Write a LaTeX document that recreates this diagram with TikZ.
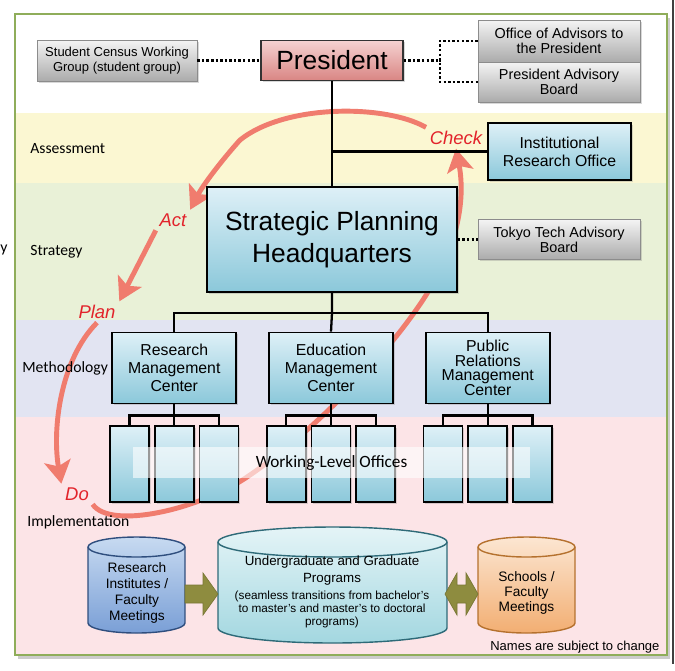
\documentclass[tikz,border=0pt]{standalone}
\usepackage{fontspec}
\setmainfont{Liberation Sans}
\newfontfamily\calibri{Carlito}
\usepackage{xcolor}
\usepackage{tikz}
\usetikzlibrary{calc,positioning,shadows,arrows.meta}
\definecolor{bandyellow}{HTML}{FBF7D2}
\definecolor{bandgreen}{HTML}{E9F1D7}
\definecolor{bandlilac}{HTML}{E2E4F2}
\definecolor{bandpink}{HTML}{FCE4E7}
\definecolor{framegreen}{HTML}{8FAD5A}
\definecolor{greytop}{HTML}{F4F4F4}
\definecolor{greybot}{HTML}{ABABAB}
\definecolor{redtop}{HTML}{F5D2D1}
\definecolor{redbot}{HTML}{D98583}
\definecolor{bluetop}{HTML}{DEF0F7}
\definecolor{bluebot}{HTML}{8BC8DA}
\definecolor{drumbluetop}{HTML}{C7DAF1}
\definecolor{drumbluebot}{HTML}{7A9FD6}
\definecolor{drumblueline}{HTML}{2F4E7E}
\definecolor{drumtealtop}{HTML}{E4F4F7}
\definecolor{drumtealbot}{HTML}{A3D7E0}
\definecolor{drumtealline}{HTML}{2E6A78}
\definecolor{drumorangetop}{HTML}{FCE6D2}
\definecolor{drumorangebot}{HTML}{F2AE72}
\definecolor{drumorangeline}{HTML}{B5712E}
\definecolor{pdcapink}{HTML}{F07C6E}
\definecolor{pdcared}{HTML}{E2232B}
\definecolor{olivearrow}{HTML}{8E8C3F}
\newcommand{\FontAt}[2]{\fontsize{#1}{#2}\selectfont}

\begin{document}
\begin{tikzpicture}[x=0.02cm, y=-0.02cm, node distance=0.62cm,
    boxshadow/.style={drop shadow={opacity=0.3, shadow xshift=1pt, shadow yshift=-1pt}},
    greybox/.style={draw=black!45, top color=greytop, bottom color=greybot, boxshadow, align=center, inner sep=1pt, minimum width=3.24cm, minimum height=0.8cm, font=\FontAt{8.2}{8.6}},
    bluebox/.style={draw=black, line width=1pt, top color=bluetop, bottom color=bluebot, boxshadow, align=center, inner sep=1pt, font=\FontAt{9}{10.2}},
    centre/.style={bluebox, minimum width=2.48cm, minimum height=1.42cm},
    office/.style={bluebox, minimum width=0.78cm, minimum height=1.52cm},
    bandt/.style={anchor=west, inner sep=0pt, font=\calibri\FontAt{8.9}{10}},
    tree/.style={line width=1.3pt},
    dots/.style={line width=1.4pt, dash pattern=on 1.4pt off 1.2pt},
    pdca/.style={line width=2.8pt, draw=pdcapink, -{Stealth[length=13pt, width=15pt, inset=3pt]}},
    pdcat/.style={text=pdcared, inner sep=2pt, font=\itshape\FontAt{10.5}{12}},
    drum/.style={draw=#1line, line width=0.8pt, top color=#1top, bottom color=#1bot},
    drumt/.style={align=center, font=\FontAt{7.8}{9}},
    block/.style={fill=olivearrow, draw=olivearrow!85!black, line width=0.4pt}]
    \useasboundingbox (0,0) rectangle (675,670);

    \fill[black!20] (18,18) rectangle (670,659);
    \fill[white] (15,14) rectangle (667,113);
    \fill[bandyellow] (15,113) rectangle (667,183);
    \fill[bandgreen] (15,183) rectangle (667,320);
    \fill[bandlilac] (15,320) rectangle (667,417);
    \fill[bandpink] (15,417) rectangle (667,655);
    \draw[framegreen, line width=1.6pt] (15,14) rectangle (667,655);
    \draw[black!75, line width=0.6pt] (673,0) -- (673,664);
    \node[font=\calibri\FontAt{9}{10}, anchor=east, inner sep=0pt] (cut) at (8,250) {y};

    \node[pdcat] (check) at (456,138) {Check};
    \node[pdcat] (act) at (173,220) {Act};
    \node[pdcat] (plan) at (97,312) {Plan};
    \node[pdcat] (do) at (77,494) {Do};

    \draw[pdca] (check.north west) .. controls (385,104) and (285,104) .. (240,140) .. controls (222,160) and (203,185) .. (act.north east);
    \draw[pdca] (act.south west) -- (plan.north east);
    \draw[pdca] (plan.south) .. controls (60,360) and (52,430) .. (do.north west);
    \draw[pdca] (do.south east) .. controls (110,530) and (200,510) .. (250,475) .. controls (330,420) and (420,320) .. (445,260) .. controls (465,215) and (462,180) .. (check.south);

    \node[bandt] (assess) at (30,149) {Assessment};
    \node[bandt] (strat) at (30,252) {Strategy};
    \node[bandt] (method) at (22,368) {Methodology};
    \node[bandt] (impl) at (27,522) {Implementation};

    \node[greybox, minimum width=3.2cm, minimum height=0.82cm, font=\FontAt{7.4}{8.8}] (census) at (117,60.5) {Student Census Working\\Group (student group)};
    \node[draw=black!80, line width=0.8pt, top color=redtop, bottom color=redbot, boxshadow, minimum width=2.84cm, minimum height=0.8cm, font=\FontAt{15}{17}] (president) at (332,60.5) {President};
    \node[greybox, minimum height=0.84cm] (advisors) at (559,41) {Office of Advisors to\\the President};
    \node[greybox] (advboard) at (559,82) {President Advisory\\Board};
    \node[bluebox, minimum width=2.86cm, minimum height=1.14cm] (iro) at (559.5,151.5) {Institutional\\Research Office};
    \node[bluebox, minimum width=5cm, minimum height=2.1cm, font=\FontAt{15}{18}] (hq) at (332,239.5) {Strategic Planning\\Headquarters};
    \node[greybox] (ttboard) at (559,239.5) {Tokyo Tech Advisory\\Board};

    \node[centre] (edu) at (331,368) {Education\\Management\\Center};
    \node[centre, left=of edu] (rmc) {Research\\Management\\Center};
    \node[centre, right=of edu, font=\FontAt{9}{8.3}] (prmc) {Public\\Relations\\Management\\Center};

    \coordinate (brace) at (440,60.5);
    \draw[dots] (census) -- (president);
    \draw[dots] (president) -- (brace);
    \draw[dots] (advisors.west) -| (brace) |- (advboard.west);
    \draw[dots] (hq) -- (ttboard);

    \draw[tree] (president) -- (hq);
    \draw[tree] (president.south |- iro.west) -- (iro.west);
    \coordinate (hqbus) at ($(hq.south)+(0,20)$);
    \draw[tree] (hq.south) -- (hqbus) -- (edu.north);
    \draw[tree] (rmc.north) |- (hqbus) -| (prmc.north);

    \foreach \c in {rmc,edu,prmc} {
        \node[office, below=0.42cm of \c] (\c-2) {};
        \node[office, left=0.08cm of \c-2] (\c-1) {};
        \node[office, right=0.08cm of \c-2] (\c-3) {};
        \coordinate (\c-bus) at ($(\c.south)+(0,11)$);
        \draw[tree] (\c.south) -- (\c-2.north);
        \draw[tree] (\c-1.north) |- (\c-bus) -| (\c-3.north);
    }
    \node[fill=white, fill opacity=0.6, text opacity=1, minimum width=7.94cm, minimum height=0.62cm, font=\calibri\FontAt{9.8}{11}] (wlo) at (331.5,462.5) {Working-Level Offices};

    \draw[drum=drumblue] (88,547) -- (88,623) arc[start angle=180, end angle=360, x radius=0.97cm, y radius=0.2cm] -- (185,547) arc[start angle=0, end angle=180, x radius=0.97cm, y radius=0.2cm] -- cycle;
    \draw[drumblueline, line width=0.8pt] (88,547) arc[start angle=180, end angle=360, x radius=0.97cm, y radius=0.2cm];
    \draw[drum=drumteal] (218,542) -- (218,628) arc[start angle=180, end angle=360, x radius=2.29cm, y radius=0.3cm] -- (447,542) arc[start angle=0, end angle=180, x radius=2.29cm, y radius=0.3cm] -- cycle;
    \draw[drumtealline, line width=0.8pt] (218,542) arc[start angle=180, end angle=360, x radius=2.29cm, y radius=0.3cm];
    \draw[drum=drumorange] (478,547) -- (478,623) arc[start angle=180, end angle=360, x radius=0.97cm, y radius=0.2cm] -- (575,547) arc[start angle=0, end angle=180, x radius=0.97cm, y radius=0.2cm] -- cycle;
    \draw[drumorangeline, line width=0.8pt] (478,547) arc[start angle=180, end angle=360, x radius=0.97cm, y radius=0.2cm];

    \node[drumt] (institutes) at (137,593) {Research\\Institutes /\\Faculty\\Meetings};
    \node[drumt, font=\FontAt{7.6}{9.6}] (programs) at (332,592) {Undergraduate and Graduate\\Programs\\{\FontAt{6.7}{9.6}(seamless transitions from bachelor's}\\[-2.2pt]{\FontAt{6.7}{9.6}to master's and master's to doctoral}\\[-2.2pt]{\FontAt{6.7}{9.6}programs)}};
    \node[drumt, font=\FontAt{7.8}{8.5}] (schools) at (526.5,593) {Schools /\\Faculty\\Meetings};

    \fill[block] (185,585) -- (203,585) -- (203,573) -- (218,594) -- (203,615) -- (203,603) -- (185,603) -- cycle;
    \fill[block] (445,594) -- (457,573) -- (457,585) -- (466,585) -- (466,573) -- (478,594) -- (466,615) -- (466,603) -- (457,603) -- (457,615) -- cycle;

    \node[anchor=west, inner sep=0pt, font=\FontAt{7.4}{9}] (note) at (490,647) {Names are subject to change};
\end{tikzpicture}
\end{document}
